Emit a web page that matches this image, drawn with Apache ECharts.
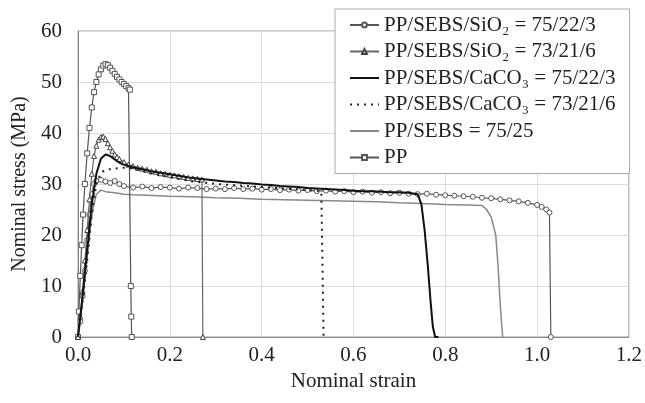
<!DOCTYPE html>
<html><head><meta charset="utf-8">
<script src="https://cdn.jsdelivr.net/npm/echarts@6/dist/echarts.min.js"></script>
<style>html,body{margin:0;padding:0;background:#fff}#c{width:645px;height:403px}</style>
</head><body><div id="c"></div>
<script>
// Legend names
var seriesNames = ['PP/SEBS/SiO\u2082 = 75/22/3','PP/SEBS/SiO\u2082 = 73/21/6','PP/SEBS/CaCO\u2083 = 75/22/3','PP/SEBS/CaCO\u2083 = 73/21/6','PP/SEBS = 75/25','PP'];
var hasMarker = [true,true,false,false,false,true];
var xTicks = [0,0.2,0.4,0.6,0.8,1.0,1.2];
var yTicks = [0,10,20,30,40,50,60];

// SiO2 75/22/3 (circles)
var sio2a_x = [0,0.005,0.01,0.015,0.02,0.025,0.03,0.035,0.04,0.05,0.06,0.07,0.08,0.09,0.1,0.12,0.14,0.16,0.18,0.2,0.22,0.24,0.26,0.28,0.3,0.32,0.34,0.36,0.38,0.4,0.42,0.44,0.46,0.48,0.5,0.52,0.54,0.56,0.58,0.6,0.62,0.64,0.66,0.68,0.7,0.72,0.74,0.76,0.78,0.8,0.82,0.84,0.86,0.88,0.9,0.92,0.94,0.96,0.98,1.0,1.01,1.02,1.027,1.03];
var sio2a_y = [0,3,8,13,19,24,28,30,30.6,30.8,30.5,30.2,30.6,30.0,29.6,29.3,29.5,29.2,29.4,29.3,29.1,29.3,29.2,29.0,29.1,29.0,29.2,29.0,29.1,28.9,29.0,28.8,28.9,28.7,28.8,28.6,28.7,28.5,28.6,28.4,28.5,28.3,28.4,28.2,28.3,28.1,28.0,28.1,27.9,27.8,27.7,27.6,27.5,27.3,27.2,27.0,26.8,26.6,26.3,25.9,25.5,25.0,24.4,0];

// SiO2 73/21/6 (triangles)
var sio2b_x = [0,0.005,0.01,0.015,0.02,0.025,0.03,0.035,0.04,0.045,0.05,0.055,0.06,0.065,0.07,0.075,0.08,0.085,0.09,0.1,0.11,0.12,0.13,0.14,0.15,0.16,0.17,0.18,0.19,0.2,0.21,0.22,0.23,0.24,0.25,0.26,0.27,0.272];
var sio2b_y = [0,4,9,15,21,27,32,35.5,37.5,38.7,39.2,39.3,38.8,38.0,37.2,36.5,35.8,35.3,34.9,34.3,33.8,33.5,33.2,33.0,32.8,32.5,32.4,32.1,32.0,31.8,31.7,31.5,31.4,31.2,31.1,31.0,30.9,0];

// CaCO3 75/22/3 (solid black)
var caa_x = [0,0.01,0.02,0.03,0.04,0.05,0.06,0.07,0.08,0.09,0.1,0.12,0.14,0.16,0.18,0.2,0.22,0.24,0.26,0.28,0.3,0.32,0.34,0.36,0.38,0.4,0.42,0.44,0.46,0.48,0.5,0.52,0.54,0.56,0.58,0.6,0.62,0.64,0.66,0.68,0.7,0.72,0.74,0.748,0.755,0.762,0.768,0.773,0.778,0.785];
var caa_y = [0,8,17,26,32,35,35.8,35.5,34.8,34.2,33.8,33.3,32.9,32.5,32.2,31.9,31.6,31.3,31.1,30.9,30.7,30.5,30.4,30.2,30.1,29.9,29.8,29.6,29.5,29.4,29.2,29.1,29.0,28.9,28.8,28.7,28.6,28.6,28.5,28.4,28.4,28.3,28.0,26,21,14,7,2,0,0];

// CaCO3 73/21/6 (dotted)
var cab_x = [0,0.01,0.02,0.03,0.04,0.05,0.06,0.08,0.1,0.12,0.15,0.2,0.25,0.3,0.35,0.4,0.45,0.5,0.53,0.535];
var cab_y = [0,7,15,24,30,32.2,32.8,33,33.2,33,32.3,31.3,30.5,30,29.7,29.4,29.1,28.8,28.6,0];

// PP/SEBS 75/25 (gray)
var ps_x = [0,0.01,0.02,0.03,0.04,0.05,0.06,0.08,0.1,0.12,0.15,0.2,0.25,0.3,0.35,0.4,0.45,0.5,0.55,0.6,0.65,0.7,0.75,0.8,0.85,0.88,0.89,0.9,0.91,0.915,0.92,0.925];
var ps_y = [0,7,16,24,28,28.8,28.5,28.3,28.0,27.9,27.8,27.6,27.5,27.3,27.2,27.0,26.9,26.8,26.7,26.6,26.5,26.3,26.2,26.0,25.9,25.8,25.0,23.5,20,14,6,0];

// PP (squares)
var pp_x = [0,0.002,0.005,0.008,0.011,0.015,0.02,0.025,0.03,0.035,0.04,0.045,0.05,0.055,0.06,0.065,0.07,0.075,0.08,0.085,0.09,0.095,0.1,0.105,0.11,0.113,0.115,0.116,0.117];
var pp_y = [0,5,12,18,24,30,36,41,45,48,50,51.5,52.5,53.2,53.5,53.3,52.8,52.2,51.6,51.0,50.5,50.0,49.6,49.2,48.8,48.5,10,4,0];

function pairs(xs, ys){ return xs.map(function(x,i){ return [x, ys[i]]; }); }

var FONT = 'Liberation Serif';
var FS = 21;
var chart = echarts.init(document.getElementById('c'), null, {renderer:'canvas'});
var option = {
  animation:false,
  backgroundColor:'#fff',
  textStyle:{fontFamily:FONT},
  grid:{left:78, right:12, top:31, bottom:66, show:true, borderColor:'#999', borderWidth:1},
  legend:{
    orient:'vertical', left:335, top:9,
    data:seriesNames.map(function(n,i){
      return hasMarker[i] ? {name:n} : {name:n, itemStyle:{opacity:0}};
    }),
    backgroundColor:'#fff', borderColor:'#aaa', borderWidth:1,
    padding:[5,14,5,14], itemGap:4.5, itemWidth:29, itemHeight:6,
    textStyle:{fontFamily:FONT, fontSize:FS, color:'#222', lineHeight:22}
  },
  xAxis:{
    type:'value', min:0, max:1.2, interval:0.2,
    name:'Nominal strain', nameLocation:'middle', nameGap:33,
    nameTextStyle:{fontFamily:FONT, fontSize:FS, color:'#222'},
    axisLine:{lineStyle:{color:'#888'}}, axisTick:{show:false},
    axisLabel:{fontFamily:FONT, fontSize:FS, color:'#222', margin:8, formatter:function(v){return v.toFixed(1);}},
    splitLine:{show:true, lineStyle:{color:'#ddd'}}
  },
  yAxis:{
    type:'value', min:0, max:60, interval:10,
    name:'Nominal stress (MPa)', nameLocation:'middle', nameGap:48,
    nameTextStyle:{fontFamily:FONT, fontSize:20, color:'#222'},
    axisLine:{show:true, lineStyle:{color:'#888'}}, axisTick:{show:false},
    axisLabel:{fontFamily:FONT, fontSize:FS, color:'#222', margin:16},
    splitLine:{show:true, lineStyle:{color:'#ddd'}}
  },
  series:[
    {name:seriesNames[0], type:'line', data:pairs(sio2a_x,sio2a_y), symbol:'circle', symbolSize:5, showAllSymbol:true,
      lineStyle:{color:'#555', width:1.2}, itemStyle:{color:'#fff', borderColor:'#555', borderWidth:1}, z:3},
    {name:seriesNames[1], type:'line', data:pairs(sio2b_x,sio2b_y), symbol:'triangle', symbolSize:5, showAllSymbol:true,
      lineStyle:{color:'#666', width:1.2}, itemStyle:{color:'#fff', borderColor:'#444', borderWidth:1}, z:4},
    {name:seriesNames[2], type:'line', data:pairs(caa_x,caa_y), symbol:'none',
      lineStyle:{color:'#111', width:2}, itemStyle:{color:'#111'}, z:5},
    {name:seriesNames[3], type:'line', data:pairs(cab_x,cab_y), symbol:'none',
      lineStyle:{color:'#222', width:2, type:[2,5]}, itemStyle:{color:'#222'}, z:5},
    {name:seriesNames[4], type:'line', data:pairs(ps_x,ps_y), symbol:'none',
      lineStyle:{color:'#888', width:1.5}, itemStyle:{color:'#888'}, z:2},
    {name:seriesNames[5], type:'line', data:pairs(pp_x,pp_y), symbol:'rect', symbolSize:5, showAllSymbol:true,
      lineStyle:{color:'#555', width:1.2}, itemStyle:{color:'#fff', borderColor:'#555', borderWidth:1}, z:3}
  ]
};
chart.setOption(option);
</script>
</body></html>
